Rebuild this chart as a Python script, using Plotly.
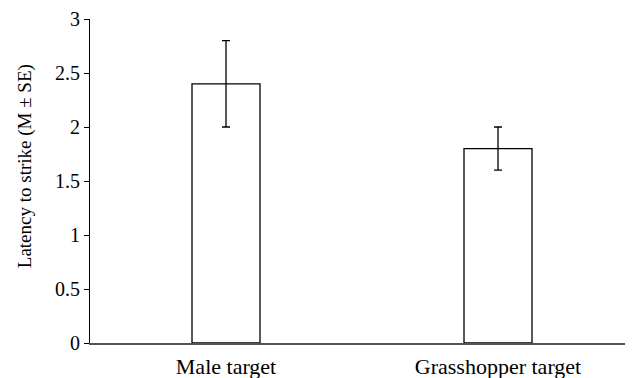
import plotly.graph_objects as go

categories = ["Male target", "Grasshopper target"]
means = [2.4, 1.8]
errors = [0.4, 0.2]
y_ticks = [0, 0.5, 1, 1.5, 2, 2.5, 3]
y_tick_labels = ["0", "0.5", "1", "1.5", "2", "2.5", "3"]
y_title = "Latency to strike (M ± SE)"

FONT = "Liberation Serif"

fig = go.Figure()
fig.add_trace(go.Bar(
    x=categories,
    y=means,
    width=0.25,
    marker=dict(color="white", line=dict(color="black", width=1.3)),
    error_y=dict(type="data", array=errors, visible=True, color="black",
                 thickness=1.3, width=4),
))

fig.add_annotation(
    text=y_title, textangle=-90,
    xref="paper", yref="paper", x=-0.118, y=0.545,
    xanchor="center", yanchor="middle", showarrow=False,
    font=dict(family=FONT, size=19, color="black"),
)

fig.update_layout(
    width=633, height=378,
    margin=dict(l=82, r=7, t=11, b=43),
    paper_bgcolor="white", plot_bgcolor="white",
    showlegend=False,
    font=dict(family=FONT, color="black"),
    xaxis=dict(
        range=[-0.5, 1.5],
        showline=True, linecolor="#555555", linewidth=2,
        ticks="", showgrid=False, zeroline=False,
        tickfont=dict(family=FONT, size=22, color="black"),
        ticklabelstandoff=3,
        automargin=False,
    ),
    yaxis=dict(
        range=[0, 3],
        tickvals=y_ticks, ticktext=y_tick_labels,
        showline=True, linecolor="black", linewidth=1,
        ticks="outside", ticklen=5, tickcolor="black", tickwidth=1,
        showgrid=False, zeroline=False,
        tickfont=dict(family=FONT, size=20, color="black"),
        automargin=False,
    ),
)

fig.write_html("out.html")
